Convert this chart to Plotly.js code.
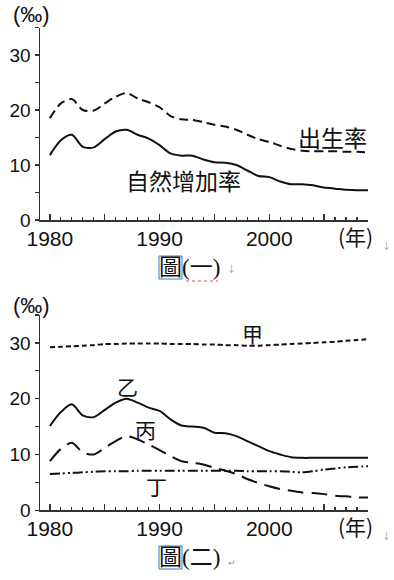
<!DOCTYPE html>
<html>
<head>
<meta charset="utf-8">
<script src="https://cdn.plot.ly/plotly-3.0.1.min.js"></script>
<style>html,body{margin:0;padding:0;background:#fff;}#chart{width:394px;height:580px;}</style>
</head>
<body>
<div id="chart"></div>
<script>
// ---- data ----
const years = [1980,1981,1982,1983,1984,1985,1986,1987,1988,1989,1990,1991,1992,1993,1994,1995,1996,1997,1998,1999,2000,2001,2002,2003,2004,2005,2006,2007,2008,2009];

// Figure 1
const birthRate = [18.5,21.2,22.0,20.0,19.9,21.2,22.4,23.1,22.1,21.4,20.5,18.9,18.3,18.2,17.8,17.3,17.0,16.4,15.5,14.7,14.2,13.5,12.9,12.6,12.5,12.5,12.5,12.4,12.4,12.3];
const naturalIncrease = [11.8,14.5,15.5,13.3,13.2,14.7,16.1,16.4,15.5,14.8,13.6,12.1,11.7,11.7,11.0,10.5,10.4,10.0,9.0,8.0,7.8,7.0,6.5,6.5,6.3,5.9,5.7,5.5,5.4,5.4];

// Figure 2
const jia  = [29.2,29.3,29.4,29.5,29.6,29.8,29.8,29.9,29.9,29.9,29.9,29.8,29.8,29.8,29.7,29.7,29.6,29.6,29.5,29.5,29.6,29.7,29.8,29.9,30.0,30.1,30.2,30.4,30.5,30.7];
const yi   = [15.1,17.6,19.0,17.0,16.7,18.0,19.3,20.0,19.3,18.4,17.8,16.3,15.2,15.0,14.8,13.9,13.8,13.3,12.4,11.5,10.6,10.0,9.5,9.4,9.4,9.4,9.4,9.4,9.4,9.4];
const bing = [8.8,11.0,12.1,10.4,10.0,11.2,12.4,13.3,12.7,11.8,10.8,9.7,8.8,8.5,8.2,7.6,7.1,6.5,5.6,4.9,4.3,3.8,3.5,3.2,3.1,2.9,2.6,2.5,2.3,2.3];
const ding = [6.5,6.6,6.7,6.8,6.9,7.0,7.0,7.0,7.1,7.1,7.1,7.1,7.1,7.1,7.1,7.1,7.1,7.1,7.0,7.0,7.0,7.0,6.9,6.8,7.0,7.3,7.5,7.7,7.8,7.9];

const yTickVals = [0,5,10,15,20,25,30,35];
const yTickText = ['0','','10','','20','','30',''];
const xTickVals = [1980,1985,1990,1995,2000,2005];
const xTickText = ['1980','','1990','','2000',''];

const labels1 = {birth:'出生率', natural:'自然增加率'};
const labels2 = ['甲','乙','丙','丁'];
const unitLabel = '(‰)';
const yearLabel = '(年)';
const captions = ['圖(一)','圖(二)'];

// ---- layout helpers ----
const W = 394, H = 580;
const px = x => x / W;
const py = y => 1 - y / H;
const AX = '#333';
const CJK = '"Noto Sans CJK TC", "Noto Sans CJK SC", sans-serif';
const SANS = '"Liberation Sans", Arial, sans-serif';
const SERIF = '"Liberation Serif", "Noto Sans CJK TC", serif';

function line(y, xa, ya, dash, width) {
  return {x: years, y: y, xaxis: xa, yaxis: ya, type: 'scatter', mode: 'lines',
    line: {color: '#111', width: width || 2, dash: dash, shape: 'spline', smoothing: 0.8},
    hoverinfo: 'skip', showlegend: false};
}

const traces = [
  line(birthRate, 'x', 'y', '9px,5px'),
  line(naturalIncrease, 'x', 'y', 'solid'),
  line(jia, 'x2', 'y2', '5px,3px'),
  line(yi, 'x2', 'y2', 'solid'),
  line(bing, 'x2', 'y2', '16px,8px'),
  line(ding, 'x2', 'y2', '10px,3px,2px,3px,2px,3px')
];

function xaxis(anchor) {
  return {
    domain: [px(40), px(368)], range: [1979.1, 2009.0], anchor: anchor,
    showgrid: false, zeroline: false, showline: true, linecolor: AX, linewidth: 1.5,
    tickmode: 'array', tickvals: xTickVals, ticktext: xTickText,
    ticks: 'inside', ticklen: 6, tickwidth: 1.3, tickcolor: AX,
    minor: {dtick: 1, tick0: 1980, ticks: 'inside', ticklen: 3.5, tickwidth: 1.2, tickcolor: AX, showgrid: false},
    tickfont: {family: SANS, size: 21, color: '#111'},
    ticklabelstandoff: -1,
    fixedrange: true
  };
}
function yaxis(anchor, dom) {
  return {
    domain: dom, range: [0, 35], anchor: anchor,
    showgrid: false, zeroline: false, showline: true, linecolor: AX, linewidth: 1.5,
    tickmode: 'array', tickvals: yTickVals, ticktext: yTickText,
    ticks: 'outside', ticklen: 4, tickwidth: 1.3, tickcolor: AX,
    tickfont: {family: SANS, size: 19, color: '#111'},
    fixedrange: true
  };
}

function ann(text, x, y, size, font, color, extra) {
  return Object.assign({text: text, x: px(x), y: py(y), xref: 'paper', yref: 'paper',
    showarrow: false, xanchor: 'center', yanchor: 'middle',
    font: {family: font || CJK, size: size, color: color || '#111'}}, extra || {});
}

const annotations = [
  // figure 1
  ann(unitLabel, 32, 15, 22, SANS),
  ann(yearLabel, 355, 236, 21),
  ann(labels1.birth, 332, 137, 23),
  ann(labels1.natural, 183, 180, 23),
  ann(captions[0], 157, 267, 23, SERIF, null, {xanchor: 'left'}),
  ann('↓', 386, 245, 9, null, '#999'),
  ann('↓', 231, 268, 9, null, '#999'),
  // figure 2
  ann(unitLabel, 32, 305, 22, SANS),
  ann(yearLabel, 355, 526, 21),
  ann(labels2[0], 252, 333, 21),
  ann(labels2[1], 128, 386, 21),
  ann(labels2[2], 145, 429, 21),
  ann(labels2[3], 156, 486, 21),
  ann(captions[1], 157, 557, 23, SERIF, null, {xanchor: 'left'}),
  ann('↓', 386, 535, 9, null, '#999'),
  ann('↵', 232, 562, 9, null, '#999')
];

const shapes = [
  // Word-style highlight box around 圖 and spell-check squiggle (figure 1 caption)
  {type: 'rect', xref: 'paper', yref: 'paper', x0: px(159), x1: px(182), y0: py(279), y1: py(256),
   line: {color: '#3a78c8', width: 1}},
  {type: 'line', xref: 'paper', yref: 'paper', x0: px(186), x1: px(218), y0: py(281), y1: py(281),
   line: {color: '#e05050', width: 1, dash: 'dot'}},
  {type: 'rect', xref: 'paper', yref: 'paper', x0: px(159), x1: px(182), y0: py(569), y1: py(546),
   line: {color: '#3a78c8', width: 1}}
];

const layout = {
  width: W, height: H,
  margin: {l: 0, r: 0, t: 0, b: 0},
  paper_bgcolor: '#fff', plot_bgcolor: 'rgba(0,0,0,0)',
  showlegend: false,
  xaxis: xaxis('y'),
  yaxis: yaxis('x', [py(220), py(27.5)]),
  xaxis2: xaxis('y2'),
  yaxis2: yaxis('x2', [py(510.3), py(315)]),
  annotations: annotations,
  shapes: shapes
};

Plotly.newPlot('chart', traces, layout, {staticPlot: true, displayModeBar: false});
</script>
</body>
</html>
